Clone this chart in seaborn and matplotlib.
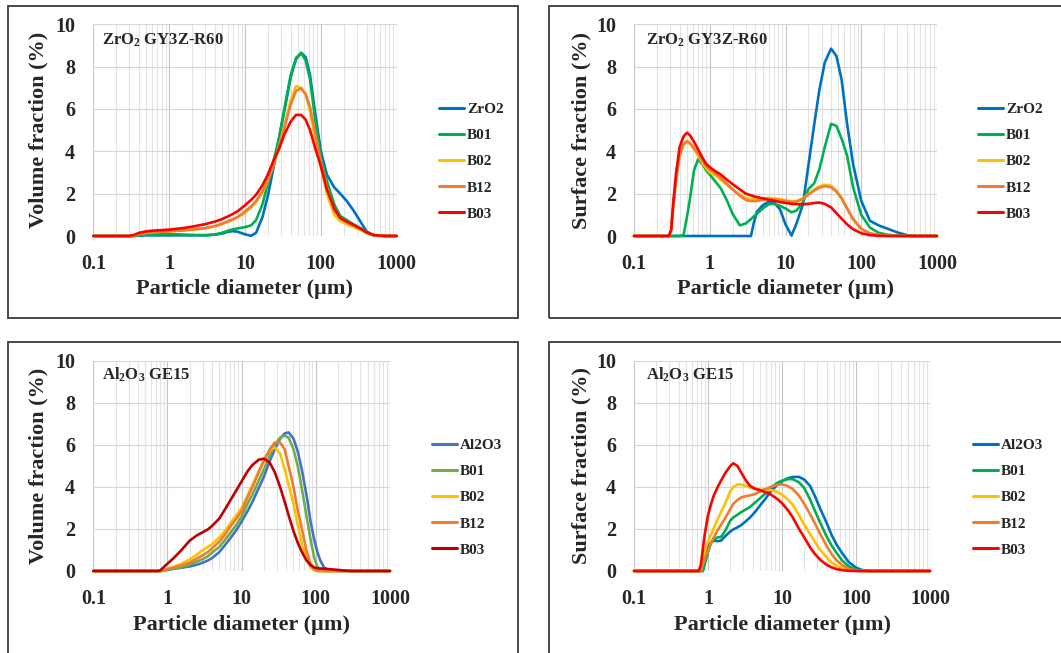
import matplotlib
matplotlib.use("Agg")
import matplotlib.pyplot as plt
from matplotlib.patches import Rectangle
from matplotlib.ticker import FixedLocator, NullFormatter
import pandas as pd
import seaborn as sns

# ---- data (particle diameter in um, fraction in %) ----
names_zr = ["ZrO2", "B01", "B02", "B12", "B03"]
names_al = ["Al2O3", "B01", "B02", "B12", "B03"]

# Volume fraction, ZrO2 GY3Z-R60
d_vol_zr = [0.1, 0.3, 0.35, 0.4, 0.5, 0.6, 0.8, 1, 1.5, 2, 3, 4, 5, 6, 7, 8, 10, 12, 14, 17,
            20, 24, 28, 33, 40, 47, 55, 63, 72, 85, 100, 120, 150, 180, 220, 270, 330, 400, 500, 700, 1000]
vol_zr_zro2 = [0, 0, 0, 0.02, 0.03, 0.03, 0.03, 0.03, 0.03, 0.03, 0.03, 0.06, 0.12, 0.2, 0.23, 0.2, 0.08, 0.01, 0.15, 0.9,
               1.9, 3.3, 4.6, 5.9, 7.5, 8.35, 8.65, 8.45, 7.6, 5.7, 4.0, 2.9, 2.3, 2.0, 1.65, 1.2, 0.7, 0.22, 0.02, 0, 0]
vol_zr_b01 = [0, 0, 0, 0.03, 0.06, 0.08, 0.09, 0.09, 0.07, 0.05, 0.04, 0.07, 0.15, 0.25, 0.32, 0.36, 0.42, 0.5, 0.75, 1.5,
              2.5, 3.6, 4.6, 6.0, 7.6, 8.4, 8.65, 8.3, 7.4, 5.4, 3.7, 2.6, 1.5, 0.95, 0.75, 0.55, 0.38, 0.18, 0.04, 0, 0]
vol_zr_b02 = [0, 0, 0.03, 0.1, 0.15, 0.18, 0.2, 0.22, 0.26, 0.3, 0.37, 0.46, 0.57, 0.68, 0.78, 0.88, 1.1, 1.35, 1.6, 2.05,
              2.6, 3.4, 4.2, 5.2, 6.4, 7.08, 7.0, 6.7, 5.9, 4.5, 3.3, 2.0, 1.0, 0.72, 0.55, 0.42, 0.3, 0.14, 0.03, 0, 0]
vol_zr_b12 = [0, 0, 0.03, 0.1, 0.15, 0.18, 0.2, 0.22, 0.26, 0.3, 0.37, 0.47, 0.58, 0.7, 0.8, 0.9, 1.15, 1.4, 1.65, 2.1,
              2.65, 3.4, 4.2, 5.1, 6.2, 6.85, 6.97, 6.7, 6.1, 4.8, 3.5, 2.3, 1.2, 0.85, 0.65, 0.5, 0.35, 0.16, 0.04, 0, 0]
vol_zr_b03 = [0, 0, 0.06, 0.15, 0.22, 0.25, 0.28, 0.3, 0.37, 0.44, 0.56, 0.68, 0.8, 0.93, 1.05, 1.17, 1.45, 1.7, 1.95, 2.4,
              2.9, 3.6, 4.1, 4.8, 5.4, 5.72, 5.72, 5.5, 5.0, 4.1, 3.3, 2.2, 1.3, 0.85, 0.68, 0.52, 0.36, 0.17, 0.04, 0, 0]

# Surface fraction, ZrO2 GY3Z-R60
d_sur_zr = [0.1, 0.29, 0.31, 0.33, 0.36, 0.4, 0.45, 0.5, 0.55, 0.62, 0.7, 0.8, 0.9, 1, 1.2, 1.4, 1.7, 2, 2.5, 3,
            3.5, 3.8, 4.2, 5, 6, 7, 8.5, 10, 12, 14, 17, 20, 24, 28, 33, 40, 47, 55, 65, 78,
            100, 130, 170, 220, 300, 400, 500, 1000]
sur_zr_zro2 = [0, 0, 0, 0, 0, 0, 0, 0, 0, 0, 0, 0, 0, 0, 0, 0, 0, 0, 0, 0,
               0, 0.6, 1.15, 1.45, 1.62, 1.6, 1.25, 0.55, 0.02, 0.6, 1.5, 3.3, 5.3, 6.9, 8.2, 8.85, 8.5, 7.4, 5.3, 3.4,
               1.66, 0.72, 0.5, 0.35, 0.17, 0.04, 0, 0]
sur_zr_b01 = [0, 0, 0, 0, 0, 0, 0.03, 0.9, 1.8, 3.1, 3.62, 3.4, 3.1, 2.9, 2.55, 2.25, 1.65, 1.05, 0.5, 0.6,
              0.8, 0.92, 1.05, 1.3, 1.5, 1.52, 1.42, 1.3, 1.12, 1.2, 1.6, 2.2, 2.5, 3.15, 4.2, 5.3, 5.2, 4.6, 3.8, 2.3,
              1.0, 0.4, 0.15, 0.06, 0.02, 0, 0, 0]
sur_zr_b02 = [0, 0, 0.3, 1.4, 2.7, 3.8, 4.3, 4.45, 4.35, 4.1, 3.8, 3.45, 3.2, 3.0, 2.85, 2.65, 2.4, 2.2, 1.95, 1.8,
              1.75, 1.75, 1.76, 1.78, 1.8, 1.78, 1.74, 1.68, 1.64, 1.65, 1.78, 1.98, 2.2, 2.35, 2.42, 2.38, 2.15, 1.8, 1.3, 0.8,
              0.33, 0.12, 0.04, 0.01, 0, 0, 0, 0]
sur_zr_b12 = [0, 0, 0.3, 1.4, 2.7, 3.8, 4.35, 4.48, 4.4, 4.15, 3.9, 3.55, 3.3, 3.15, 2.95, 2.75, 2.45, 2.2, 1.9, 1.7,
              1.65, 1.65, 1.66, 1.7, 1.72, 1.72, 1.7, 1.65, 1.6, 1.62, 1.75, 1.95, 2.15, 2.28, 2.35, 2.3, 2.1, 1.78, 1.3, 0.8,
              0.34, 0.13, 0.04, 0.01, 0, 0, 0, 0]
sur_zr_b03 = [0, 0, 0.3, 1.6, 3.0, 4.2, 4.7, 4.88, 4.75, 4.45, 4.1, 3.7, 3.4, 3.25, 3.05, 2.9, 2.65, 2.45, 2.2, 2.0,
              1.92, 1.88, 1.84, 1.78, 1.72, 1.67, 1.6, 1.56, 1.52, 1.5, 1.5, 1.52, 1.56, 1.58, 1.52, 1.35, 1.08, 0.82, 0.55, 0.32,
              0.13, 0.04, 0.01, 0, 0, 0, 0, 0]

# Volume fraction, Al2O3 GE15
d_vol_al = [0.1, 0.75, 0.8, 0.9, 1, 1.2, 1.5, 2, 2.5, 3, 3.5, 4, 5, 6, 7, 8.5, 10, 12, 14, 17,
            20, 24, 28, 33, 38, 43, 50, 57, 65, 75, 85, 95, 105, 115, 130, 150, 200, 250, 300, 1000]
vol_al_al2o3 = [0, 0, 0, 0.02, 0.05, 0.1, 0.15, 0.22, 0.3, 0.4, 0.5, 0.62, 0.9, 1.25, 1.55, 1.95, 2.36, 2.85, 3.3, 3.95,
                4.5, 5.25, 5.8, 6.3, 6.55, 6.6, 6.3, 5.7, 4.8, 3.6, 2.35, 1.5, 0.9, 0.5, 0.15, 0.03, 0, 0, 0, 0]
vol_al_b01 = [0, 0, 0, 0.03, 0.07, 0.12, 0.18, 0.3, 0.45, 0.57, 0.7, 0.88, 1.15, 1.5, 1.8, 2.2, 2.6, 3.2, 3.65, 4.3,
              4.85, 5.5, 6.0, 6.35, 6.45, 6.35, 5.8, 5.0, 3.9, 2.6, 1.5, 0.65, 0.2, 0.05, 0, 0, 0, 0, 0, 0]
vol_al_b02 = [0, 0, 0, 0.05, 0.11, 0.2, 0.32, 0.55, 0.78, 1.0, 1.15, 1.28, 1.6, 1.92, 2.25, 2.65, 3.0, 3.6, 4.1, 4.75,
              5.3, 5.75, 5.88, 5.6, 4.85, 4.1, 3.2, 2.2, 1.3, 0.6, 0.18, 0.03, 0, 0, 0, 0, 0, 0, 0, 0]
vol_al_b12 = [0, 0, 0, 0.04, 0.09, 0.16, 0.25, 0.4, 0.6, 0.75, 0.9, 1.08, 1.4, 1.75, 2.1, 2.5, 2.85, 3.5, 4.0, 4.7,
              5.25, 5.8, 6.12, 6.12, 5.8, 5.0, 4.0, 2.9, 2.0, 0.95, 0.33, 0.08, 0.01, 0, 0, 0, 0, 0, 0, 0]
vol_al_b03 = [0, 0, 0.03, 0.2, 0.35, 0.6, 0.95, 1.45, 1.7, 1.85, 1.98, 2.15, 2.5, 2.95, 3.35, 3.85, 4.27, 4.75, 5.05, 5.3,
              5.35, 5.15, 4.7, 4.0, 3.3, 2.65, 1.9, 1.35, 0.9, 0.5, 0.28, 0.17, 0.13, 0.12, 0.11, 0.09, 0.05, 0.02, 0, 0]

# Surface fraction, Al2O3 GE15
d_sur_al = [0.1, 0.75, 0.8, 0.85, 0.9, 0.95, 1, 1.1, 1.2, 1.35, 1.5, 1.7, 2, 2.2, 2.5, 2.8, 3.2, 3.7, 4.3, 5,
            6, 7, 8.5, 10, 12, 14, 17, 20, 24, 28, 33, 40, 47, 55, 65, 80, 100, 120, 150, 1000]
sur_al_al2o3 = [0, 0, 0, 0, 0.4, 0.9, 1.2, 1.35, 1.45, 1.42, 1.45, 1.65, 1.88, 1.98, 2.08, 2.18, 2.35, 2.55, 2.8, 3.1,
                3.45, 3.78, 4.08, 4.27, 4.42, 4.48, 4.48, 4.35, 4.05, 3.55, 2.95, 2.3, 1.7, 1.24, 0.85, 0.42, 0.16, 0.05, 0, 0]
sur_al_b01 = [0, 0, 0, 0, 0.3, 0.6, 0.9, 1.35, 1.5, 1.6, 1.62, 1.9, 2.4, 2.55, 2.68, 2.8, 2.92, 3.05, 3.25, 3.45,
              3.7, 3.95, 4.18, 4.3, 4.38, 4.37, 4.22, 3.95, 3.4, 2.85, 2.28, 1.65, 1.2, 0.85, 0.5, 0.22, 0.06, 0.02, 0, 0]
sur_al_b02 = [0, 0, 0, 0.4, 0.9, 1.2, 1.4, 1.75, 2.05, 2.45, 2.8, 3.2, 3.8, 4.0, 4.12, 4.12, 4.05, 3.97, 3.92, 3.88,
              3.87, 3.86, 3.78, 3.63, 3.4, 3.15, 2.65, 2.2, 1.75, 1.38, 1.0, 0.65, 0.4, 0.24, 0.13, 0.05, 0.01, 0, 0, 0]
sur_al_b12 = [0, 0, 0, 0.3, 0.6, 0.8, 0.95, 1.35, 1.6, 1.95, 2.2, 2.5, 2.95, 3.2, 3.38, 3.5, 3.56, 3.6, 3.66, 3.78,
              3.9, 4.0, 4.1, 4.13, 4.05, 3.9, 3.58, 3.2, 2.7, 2.25, 1.75, 1.2, 0.8, 0.5, 0.28, 0.1, 0.03, 0, 0, 0]
sur_al_b03 = [0, 0, 0.3, 1.0, 1.7, 2.2, 2.65, 3.2, 3.6, 4.0, 4.3, 4.65, 5.0, 5.13, 5.0, 4.7, 4.35, 4.05, 3.92, 3.85,
              3.75, 3.65, 3.45, 3.23, 2.9, 2.55, 2.0, 1.6, 1.12, 0.8, 0.53, 0.3, 0.17, 0.09, 0.04, 0.01, 0, 0, 0, 0]

x_ticks = [0.1, 1, 10, 100, 1000]
x_tick_labels = ["0.1", "1", "10", "100", "1000"]
y_ticks = [0, 2, 4, 6, 8, 10]

colors_bright = ["#0070C0", "#00B050", "#FFC000", "#ED7D31", "#FF0000"]
colors_office = ["#4472C4", "#70AD47", "#FFC000", "#ED7D31", "#C00000"]

W, H = 1061, 653

sns.set_style("white")
plt.rcParams['font.family'] = ['Liberation Serif', 'DejaVu Serif']
plt.rcParams['font.weight'] = 'bold'
plt.rcParams['mathtext.fontset'] = 'custom'
plt.rcParams['mathtext.rm'] = 'Liberation Serif:bold'
plt.rcParams['mathtext.it'] = 'Liberation Serif:bold'
plt.rcParams['mathtext.bf'] = 'Liberation Serif:bold'

fig = plt.figure(figsize=(W / 100, H / 100), dpi=100)
fig.patch.set_facecolor("white")

# chart frames (Excel style boxes)
for (x0, y0, x1, y1) in [(8, 6, 518, 318), (549, 6, 1070, 318), (8, 342, 518, 665), (549, 342, 1070, 665)]:
    fig.add_artist(Rectangle((x0 / W, 1 - y1 / H), (x1 - x0) / W, (y1 - y0) / H,
                             transform=fig.transFigure, fill=False, ec="#3a3a3a", lw=1.3))

panels = [
    dict(box=(93.3, 396.7, 24.3, 236), d=d_vol_zr, ys=[vol_zr_zro2, vol_zr_b01, vol_zr_b02, vol_zr_b12, vol_zr_b03],
         names=names_zr, colors=colors_bright, ylabel="Volume fraction (%)", title=r"ZrO$_2$ GY3Z-R60",
         ylab_x=38, xlab_y=289, title_xy=(101.7, 40), leg_xy=(439, 161.5)),
    dict(box=(634, 937, 24.3, 236), d=d_sur_zr, ys=[sur_zr_zro2, sur_zr_b01, sur_zr_b02, sur_zr_b12, sur_zr_b03],
         names=names_zr, colors=colors_bright, ylabel="Surface fraction (%)", title=r"ZrO$_2$ GY3Z-R60",
         ylab_x=581, xlab_y=289, title_xy=(645.7, 40), leg_xy=(978, 161.5)),
    dict(box=(93.3, 390, 361, 571), d=d_vol_al, ys=[vol_al_al2o3, vol_al_b01, vol_al_b02, vol_al_b12, vol_al_b03],
         names=names_al, colors=colors_office, ylabel="Volume fraction (%)", title=r"Al$_2$O$_3$ GE15",
         ylab_x=38.7, xlab_y=625, title_xy=(101.7, 375), leg_xy=(432, 497.5)),
    dict(box=(634, 930, 361, 571), d=d_sur_al, ys=[sur_al_al2o3, sur_al_b01, sur_al_b02, sur_al_b12, sur_al_b03],
         names=names_al, colors=colors_bright, ylabel="Surface fraction (%)", title=r"Al$_2$O$_3$ GE15",
         ylab_x=581, xlab_y=625, title_xy=(645.7, 375), leg_xy=(972.7, 497.5)),
]

for p in panels:
    left, right, top, bottom = p["box"]
    wpx, hpx = right - left, bottom - top
    ax = fig.add_axes([left / W, 1 - bottom / H, wpx / W, hpx / H])

    rows = []
    for name, vals in zip(p["names"], p["ys"]):
        for d, v in zip(p["d"], vals):
            rows.append((d, v, name))
    df = pd.DataFrame(rows, columns=["diameter", "fraction", "series"])

    sns.lineplot(data=df, x="diameter", y="fraction", hue="series", hue_order=p["names"],
                 palette=p["colors"], estimator=None, linewidth=1.9, ax=ax)
    for ln in ax.get_lines():
        ln.set_clip_on(False)
        ln.set_solid_joinstyle("round")

    ax.set_xscale("log")
    ax.set_xlim(0.1, 1000)
    ax.set_ylim(0, 10)
    ax.xaxis.set_major_locator(FixedLocator(x_ticks))
    ax.set_xticklabels(x_tick_labels)
    minors = [m * 10.0 ** e for e in range(-1, 3) for m in range(2, 10)]
    ax.xaxis.set_minor_locator(FixedLocator(minors))
    ax.xaxis.set_minor_formatter(NullFormatter())
    ax.set_yticks(y_ticks)
    ax.tick_params(which="both", length=0)
    ax.tick_params(axis="x", pad=13, labelsize=14.5)
    ax.tick_params(axis="y", pad=13, labelsize=14.5)
    for lab in ax.get_xticklabels() + ax.get_yticklabels():
        lab.set_fontweight("bold")

    ax.grid(which="major", axis="x", color="#c4c4c4", lw=0.8)
    ax.grid(which="minor", axis="x", color="#e3e3e3", lw=0.8)
    ax.grid(which="major", axis="y", color="#d6d6d6", lw=0.8)
    for s in ax.spines.values():
        s.set_visible(False)

    ax.set_ylabel(p["ylabel"], fontsize=16, fontweight="bold")
    ax.yaxis.label.set_verticalalignment("center")
    ax.yaxis.set_label_coords((p["ylab_x"] - left) / wpx, 0.5)
    ax.set_xlabel("Particle diameter (µm)", fontsize=16, fontweight="bold")
    ax.xaxis.label.set_verticalalignment("center")
    ax.xaxis.set_label_coords(0.5, (bottom - p["xlab_y"]) / hpx)

    tx, ty = p["title_xy"]
    fig.text(tx / W, 1 - ty / H, p["title"], fontsize=12, fontweight="bold", ha="left", va="center")

    handles, labels = ax.get_legend_handles_labels()
    lx, ly = p["leg_xy"]
    leg = ax.legend(handles, labels, loc="center left", bbox_to_anchor=(lx / W, 1 - ly / H),
                    bbox_transform=fig.transFigure, frameon=False, fontsize=11,
                    handlelength=1.65, handletextpad=0.2, labelspacing=0.82,
                    borderpad=0, borderaxespad=0)
    for h in leg.legend_handles:
        h.set_linewidth(2.2)
    for t in leg.get_texts():
        t.set_fontweight("bold")

fig.savefig("out.png", dpi=100, facecolor="white")
